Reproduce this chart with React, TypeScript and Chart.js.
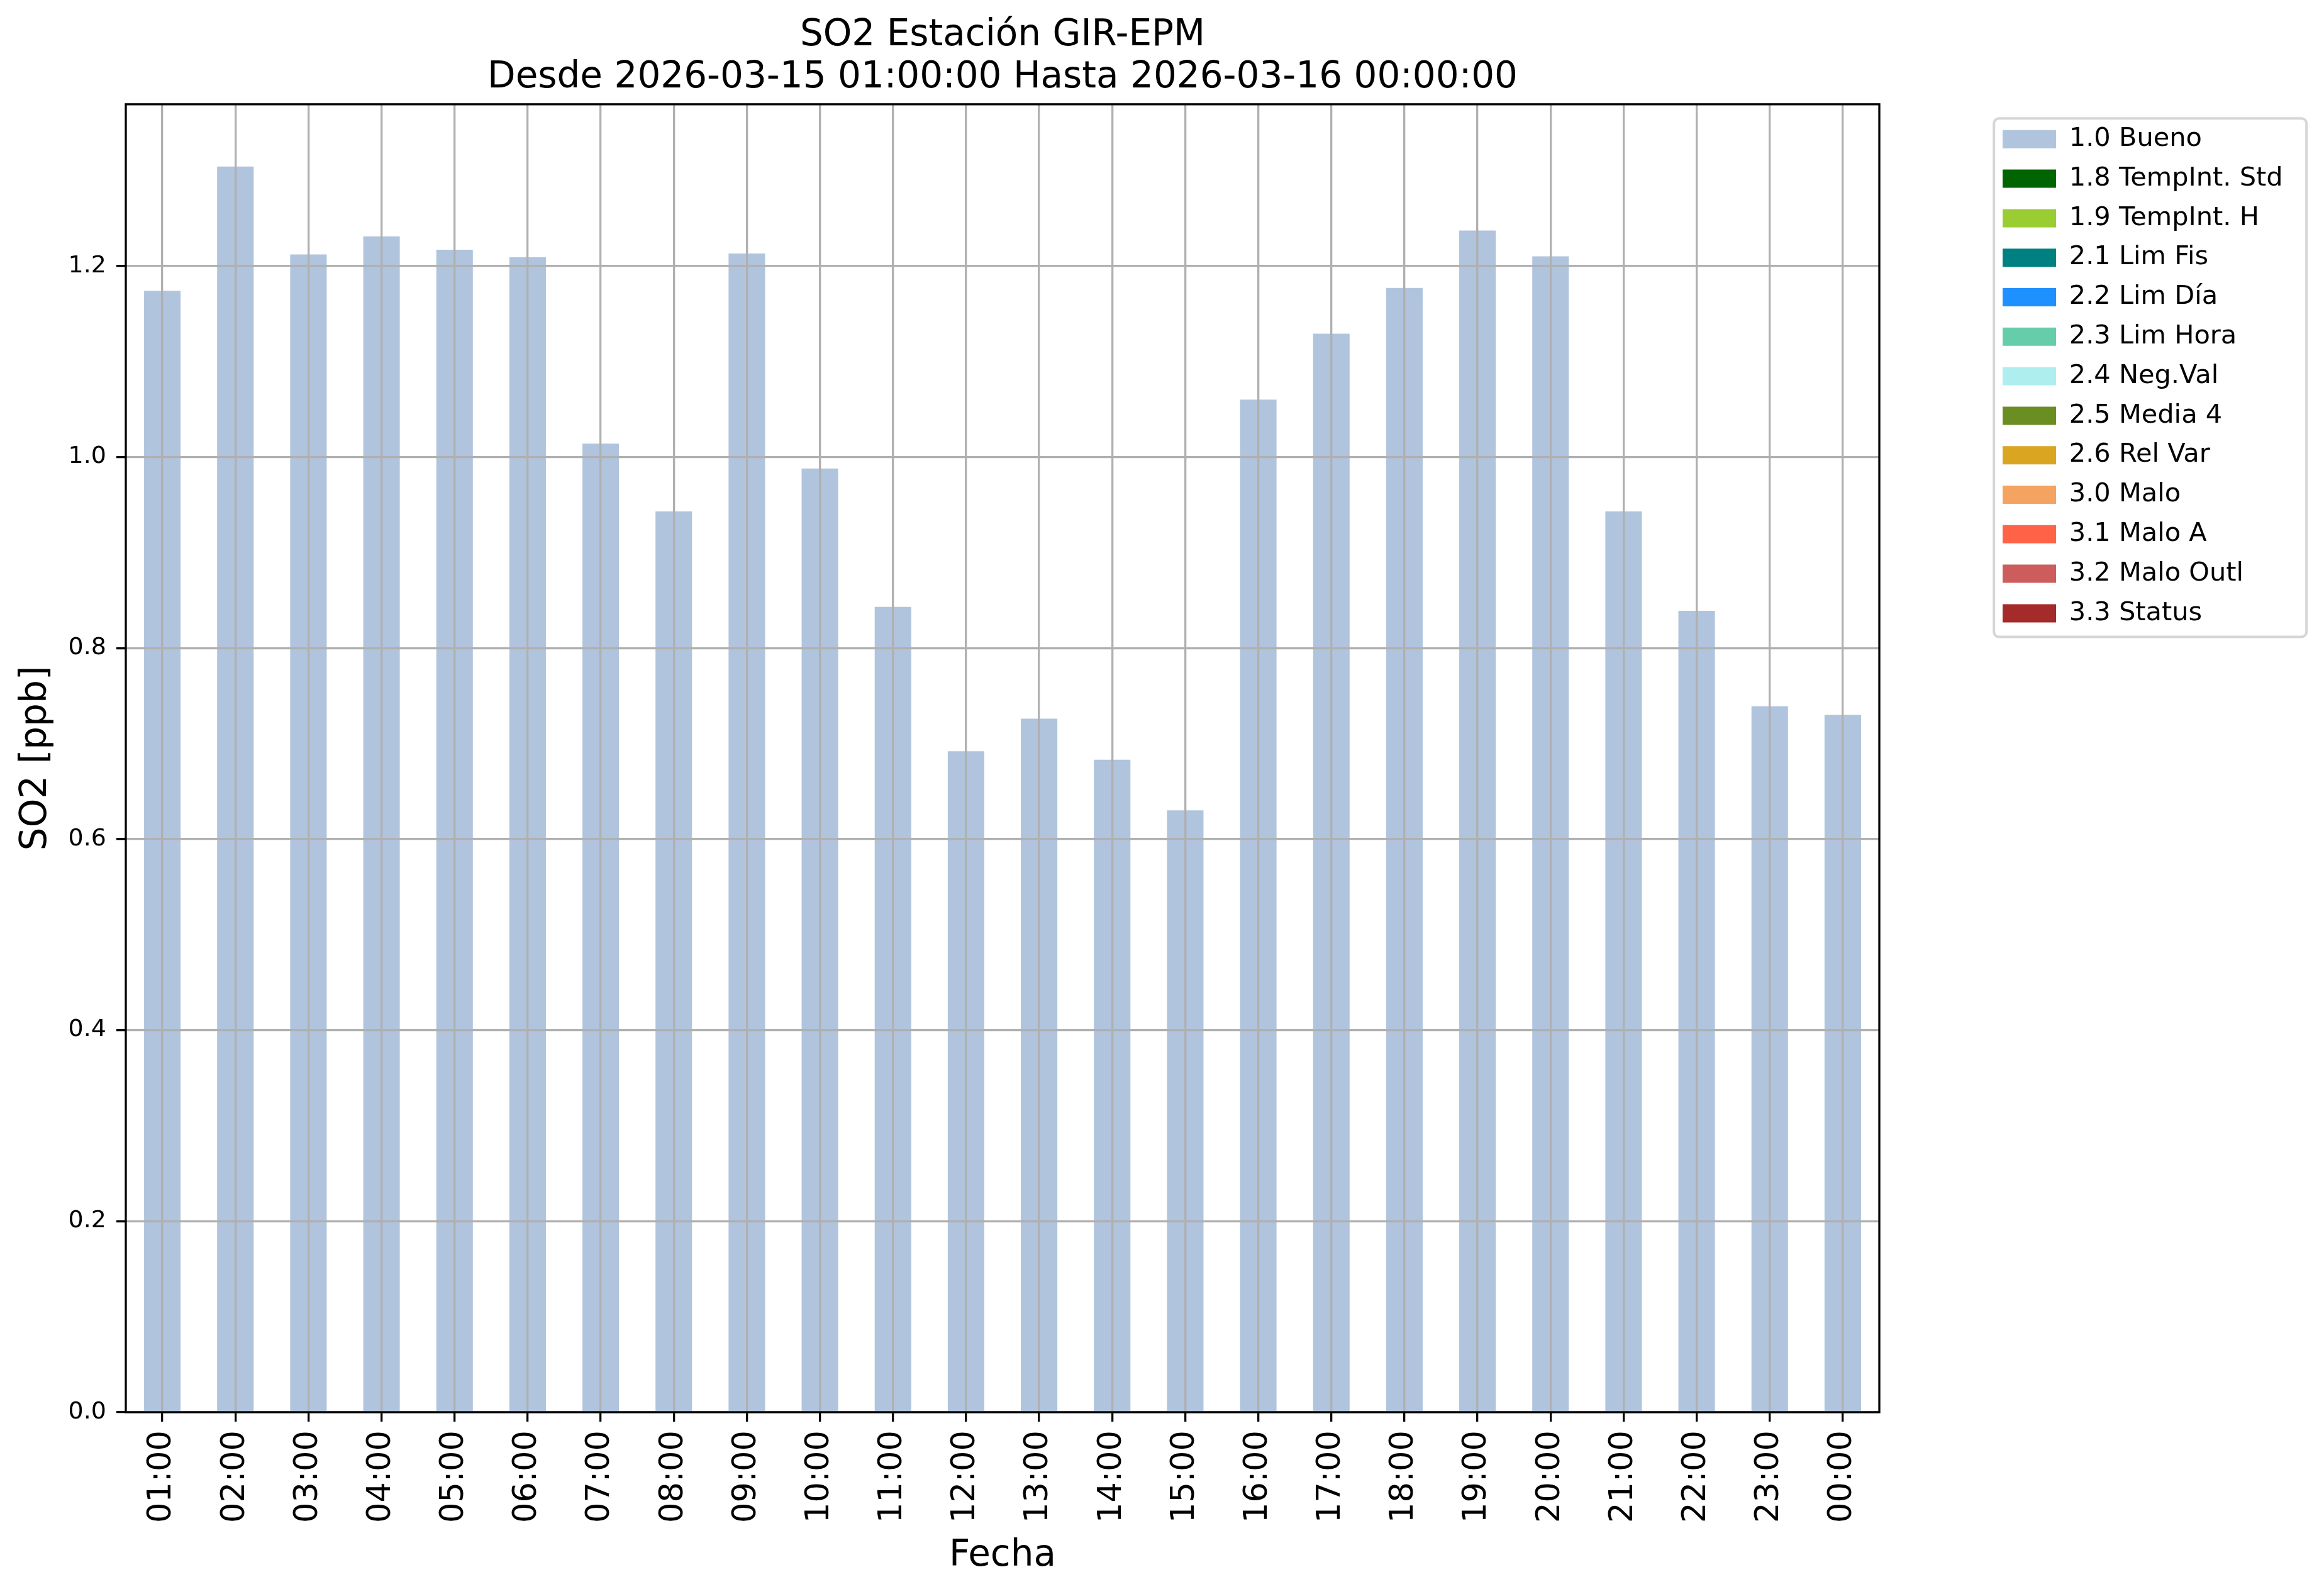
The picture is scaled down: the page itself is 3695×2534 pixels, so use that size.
import React, { useEffect, useRef } from 'react';
import { Chart, registerables } from 'chart.js';

Chart.register(...registerables);

const FONT = 'DejaVu Sans';

const hours = [
  '01:00', '02:00', '03:00', '04:00', '05:00', '06:00', '07:00', '08:00',
  '09:00', '10:00', '11:00', '12:00', '13:00', '14:00', '15:00', '16:00',
  '17:00', '18:00', '19:00', '20:00', '21:00', '22:00', '23:00', '00:00',
];

// SO2 [ppb] values flagged "1.0 Bueno"
const buenoValues = [
  1.174, 1.304, 1.212, 1.231, 1.217, 1.209, 1.014, 0.943,
  1.213, 0.988, 0.843, 0.692, 0.726, 0.683, 0.630, 1.060,
  1.129, 1.177, 1.237, 1.210, 0.943, 0.839, 0.739, 0.730,
];
// all other quality flags have no data in this period
const emptyValues: number[] = [];

const flagLabels = [
  '1.0 Bueno', '1.8 TempInt. Std', '1.9 TempInt. H', '2.1 Lim Fis', '2.2 Lim Día',
  '2.3 Lim Hora', '2.4 Neg.Val', '2.5 Media 4', '2.6 Rel Var', '3.0 Malo',
  '3.1 Malo A', '3.2 Malo Outl', '3.3 Status',
];
const flagColors = [
  '#b0c4de', '#006400', '#9acd32', '#008080', '#1e90ff',
  '#66cdaa', '#afeeee', '#6b8e23', '#daa520', '#f4a460',
  '#ff6347', '#cd5c5c', '#a52a2a',
];
const flagSeries = [
  buenoValues, emptyValues, emptyValues, emptyValues, emptyValues,
  emptyValues, emptyValues, emptyValues, emptyValues, emptyValues,
  emptyValues, emptyValues, emptyValues,
];

const yTicks = [0, 0.2, 0.4, 0.6, 0.8, 1.0, 1.2];

const titleLines = [
  'SO2 Estación GIR-EPM',
  'Desde 2026-03-15 01:00:00 Hasta 2026-03-16 00:00:00',
];

export default function App() {
  const canvasRef = useRef<HTMLCanvasElement | null>(null);

  useEffect(() => {
    const canvas = canvasRef.current;
    if (!canvas) return;
    Chart.defaults.font.family = FONT;
    const yMax = Math.max(...buenoValues) * 1.05;

    const framePlugin = {
      id: 'frames',
      afterDraw(chart: any) {
        const ctx = chart.ctx;
        const a = chart.chartArea;
        ctx.save();
        // axes spines
        ctx.strokeStyle = '#000000';
        ctx.lineWidth = 3.3;
        ctx.strokeRect(a.left, a.top, a.right - a.left, a.bottom - a.top);
        // legend frame
        const lg = chart.legend;
        const hb = lg && lg.legendHitBoxes;
        if (hb && hb.length) {
          const c0 = hb[0].top + hb[0].height / 2;
          const cl = hb[hb.length - 1].top + hb[hb.length - 1].height / 2;
          const x0 = lg.left + 7.5;
          const x1 = lg.left + 504.5;
          const y0 = c0 - 33;
          const y1 = cl + 37.5;
          const r = 8;
          ctx.strokeStyle = '#d6d6d6';
          ctx.lineWidth = 4;
          ctx.beginPath();
          ctx.moveTo(x0 + r, y0);
          ctx.lineTo(x1 - r, y0);
          ctx.arcTo(x1, y0, x1, y0 + r, r);
          ctx.lineTo(x1, y1 - r);
          ctx.arcTo(x1, y1, x1 - r, y1, r);
          ctx.lineTo(x0 + r, y1);
          ctx.arcTo(x0, y1, x0, y1 - r, r);
          ctx.lineTo(x0, y0 + r);
          ctx.arcTo(x0, y0, x0 + r, y0, r);
          ctx.closePath();
          ctx.stroke();
        }
        ctx.restore();
      },
    };

    const chart = new Chart(canvas, {
      type: 'bar',
      data: {
        labels: hours,
        datasets: flagLabels.map((label, i) => ({
          label,
          data: flagSeries[i],
          backgroundColor: flagColors[i],
          borderWidth: 0,
          barPercentage: 0.5,
          categoryPercentage: 1.0,
        })),
      },
      options: {
        responsive: false,
        devicePixelRatio: 1,
        animation: false,
        layout: { padding: { left: 0, right: 67.3, top: 0, bottom: 0 } },
        plugins: {
          tooltip: { enabled: false },
          title: {
            display: true,
            text: titleLines,
            fullSize: false,
            color: '#000000',
            font: { family: FONT, size: 58, weight: 'normal', lineHeight: 1.15 },
            padding: { top: 24, bottom: 8.4 },
          },
          legend: {
            display: true,
            position: 'right',
            align: 'start',
            fullSize: false,
            maxWidth: 465,
            labels: {
              boxWidth: 85,
              boxHeight: 29,
              padding: 21.3,
              color: '#000000',
              font: { family: FONT, size: 41.5 },
            },
            title: {
              display: true,
              text: '',
              font: { family: FONT, size: 1, lineHeight: 1 },
              padding: { top: 12.45, bottom: 0 },
            },
          },
        },
        scales: {
          x: {
            type: 'category',
            stacked: true,
            offset: true,
            border: { display: false },
            grid: {
              display: true,
              offset: false,
              z: 1,
              color: '#b0b0b0',
              lineWidth: 3.3,
              drawTicks: true,
              tickLength: 15,
              tickColor: '#000000',
              tickWidth: 3.3,
            },
            ticks: {
              autoSkip: false,
              minRotation: 90,
              maxRotation: 90,
              padding: 14,
              color: '#000000',
              font: { family: FONT, size: 51 },
            },
            title: {
              display: true,
              text: 'Fecha',
              color: '#000000',
              font: { family: FONT, size: 58 },
              padding: { top: 0, bottom: 25 },
            },
            afterFit: (s: any) => { s.height = 289; },
          },
          y: {
            type: 'linear',
            stacked: true,
            min: 0,
            max: yMax,
            border: { display: false },
            afterBuildTicks: (s: any) => { s.ticks = yTicks.map((v) => ({ value: v })); },
            grid: {
              display: true,
              z: 1,
              color: '#b0b0b0',
              lineWidth: 3.3,
              drawTicks: true,
              tickLength: 15,
              tickColor: '#000000',
              tickWidth: 3.3,
            },
            ticks: {
              padding: 16,
              color: '#000000',
              font: { family: FONT, size: 38 },
              callback: (v: any) => Number(v).toFixed(1),
            },
            title: {
              display: true,
              text: 'SO2 [ppb]',
              color: '#000000',
              font: { family: FONT, size: 58 },
              padding: { top: 23, bottom: 0 },
            },
            afterFit: (s: any) => { s.width = 200; },
          },
          gap: {
            type: 'linear',
            position: 'right',
            display: true,
            grid: { display: false, drawTicks: false },
            border: { display: false },
            ticks: { display: false },
            afterFit: (s: any) => { s.width = 174.7; },
          },
        },
      },
      plugins: [framePlugin],
    } as any);

    return () => chart.destroy();
  }, []);

  return (
    <div style={{ position: 'fixed', left: 0, top: 0, width: 3695, height: 2534, background: '#ffffff' }}>
      <canvas ref={canvasRef} width={3695} height={2534} style={{ display: 'block', width: 3695, height: 2534 }} />
    </div>
  );
}
